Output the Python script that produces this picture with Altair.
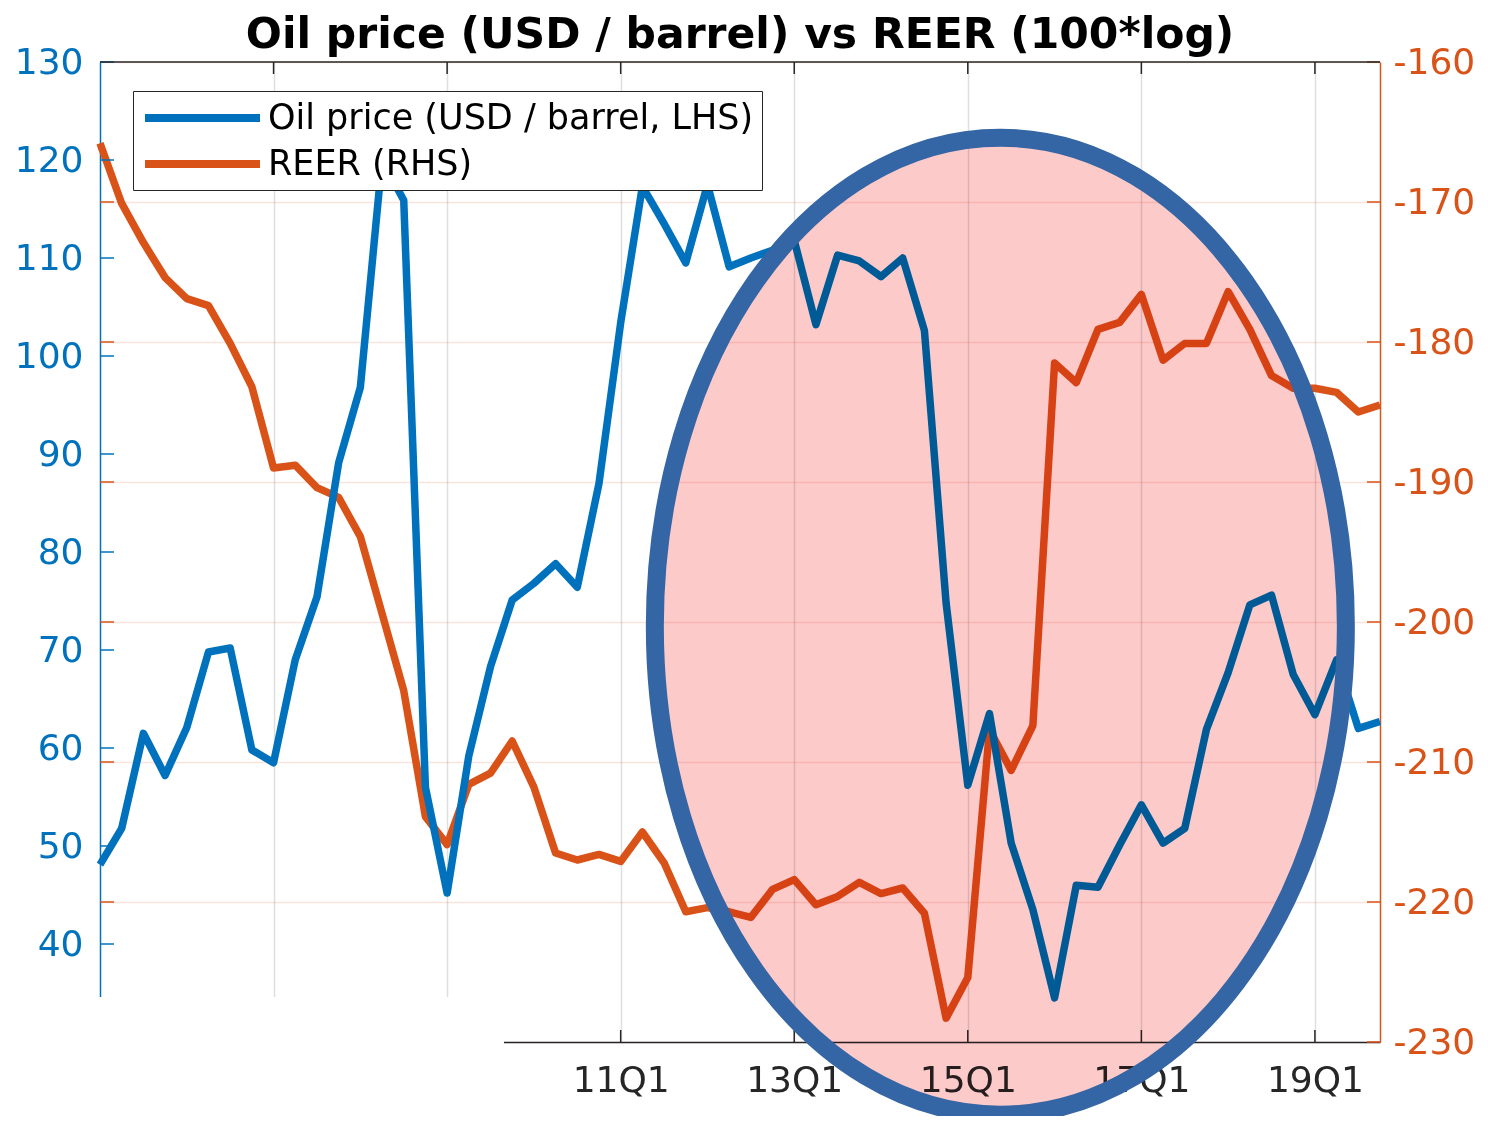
import altair as alt
import pandas as pd

# ---------------- data (quarterly, 2005Q1 .. 2019Q4) ----------------
quarters = [f"{y:02d}Q{q}" for y in range(5, 20) for q in range(1, 5)]
oil = [48.1, 51.8, 61.5, 57.2, 62.1, 69.8, 70.2, 59.8, 58.5, 69.0,
       75.4, 89.1, 96.8, 120.0, 115.9, 56.0, 45.2, 59.2, 68.3, 75.1,
       76.8, 78.8, 76.4, 87.0, 103.4, 117.3, 113.5, 109.5, 117.5, 109.1,
       110.0, 110.8, 111.8, 103.2, 110.3, 109.7, 108.1, 110.0, 102.6, 74.8,
       56.2, 63.5, 50.3, 43.5, 34.5, 46.0, 45.8, 50.1, 54.2, 50.3,
       51.8, 61.9, 67.7, 74.6, 75.6, 67.5, 63.4, 69.0, 62.0, 62.7]
reer = [-165.8, -170.1, -172.9, -175.4, -176.9, -177.4, -180.1, -183.2, -189.0, -188.8,
        -190.4, -191.1, -193.9, -199.4, -204.9, -213.9, -215.9, -211.6, -210.8, -208.5,
        -211.8, -216.5, -217.0, -216.6, -217.1, -215.0, -217.2, -220.7, -220.4, -220.7,
        -221.1, -219.1, -218.4, -220.2, -219.6, -218.6, -219.4, -219.0, -220.8, -228.3,
        -225.4, -207.7, -210.6, -207.4, -181.5, -182.9, -179.1, -178.6, -176.6, -181.3,
        -180.1, -180.1, -176.4, -179.1, -182.4, -183.3, -183.3, -183.6, -185.0, -184.5]

OIL_LABEL = "Oil price (USD / barrel, LHS)"
REER_LABEL = "REER (RHS)"
TITLE = "Oil price (USD / barrel) vs REER (100*log)"

oil_ticks = [40, 50, 60, 70, 80, 90, 100, 110, 120, 130]
reer_ticks = [-230, -220, -210, -200, -190, -180, -170, -160]
xtick_vals = [8, 16, 24, 32, 40, 48, 56]            # quarter index of 07Q1 .. 19Q1
xtick_labels = ["", "", "11Q1", "13Q1", "15Q1", "17Q1", "19Q1"]  # first two hidden in the original
xtick_bottom = [24, 32, 40, 48, 56]

# highlight ellipse (centre in quarter index / REER units, radii in px)
ell_t, ell_v = 41.5, -200.3
ell_rx, ell_ry = 345.5, 488.5

# white patch hiding the lower-left corner of the axes (as in the original)
mask = pd.DataFrame({"x0": [-0.25], "x1": [18.62], "y0": [34.6], "y1": [29.7]})

BLUE = "#0072BD"
ORANGE = "#D95319"
DARK = "#262626"
W, H = 1280, 980

t_idx = list(range(len(quarters)))
df_oil = pd.DataFrame({"t": t_idx, "q": quarters, "v": oil, "series": [OIL_LABEL] * len(oil)})
df_reer = pd.DataFrame({"t": t_idx, "q": quarters, "v": reer, "series": [REER_LABEL] * len(reer)})

x_scale = alt.Scale(domain=[0, 59], nice=False, zero=False)
oil_scale = alt.Scale(domain=[30, 130], nice=False, zero=False)
reer_scale = alt.Scale(domain=[-230, -160], nice=False, zero=False)
color_scale = alt.Scale(domain=[OIL_LABEL, REER_LABEL], range=[BLUE, ORANGE])

label_expr = ""
for v, lab in zip(xtick_vals, xtick_labels):
    label_expr += f"datum.value == {v} ? '{lab}' : "
label_expr += "''"

x_axis = alt.Axis(values=xtick_vals, labelExpr=label_expr, grid=True, gridColor=DARK,
                  gridOpacity=0.15, gridWidth=1.5, domain=True, domainColor=DARK,
                  domainWidth=1.5, ticks=False, labelColor=DARK, labelFontSize=36,
                  labelFont="DejaVu Sans", labelPadding=21, labelFlush=False, title=None)

left_axis = alt.Axis(orient="left", values=oil_ticks, grid=False, domainColor=BLUE,
                     domainWidth=1.5, ticks=False, labelColor=BLUE, labelFontSize=36,
                     labelFont="DejaVu Sans", labelPadding=17, title=None, labelOverlap=False)

right_axis = alt.Axis(orient="right", values=reer_ticks, grid=True, gridColor=ORANGE,
                      gridOpacity=0.15, gridWidth=1.5, domainColor=ORANGE, domainWidth=1.5,
                      ticks=False, labelColor=ORANGE, labelFontSize=36, labelFont="DejaVu Sans",
                      labelPadding=13, title=None, labelOverlap=False,
                      labelExpr="replace(datum.label, '\u2212', '-')")

# legend symbol: a 115px horizontal line (custom path, small layout size)
sym_size = 900
sym_r = (sym_size ** 0.5) / 2
sym_path = f"M -1 0 H {115 / sym_r - 1:.4f}"

legend = alt.Legend(orient="none", legendX=33, legendY=29, title=None,
                    symbolType=sym_path, symbolSize=sym_size, symbolStrokeWidth=8,
                    labelFontSize=35, labelFont="DejaVu Sans", labelColor="#000000",
                    labelOffset=89, labelLimit=1000, padding=8, rowPadding=9,
                    strokeColor=DARK, fillColor="#ffffff")


def X(field):
    return alt.X(field, scale=x_scale, axis=x_axis)


def YO(field):
    return alt.Y(field, scale=oil_scale, axis=left_axis)


def YR(field):
    return alt.Y(field, scale=reer_scale, axis=right_axis)


# ---------- REER group (right axis) ----------
reer_line = alt.Chart(df_reer).mark_line(strokeWidth=7.5, strokeJoin="round").encode(
    x=X("t:Q"), y=YR("v:Q"),
    color=alt.Color("series:N", scale=color_scale, legend=legend),
)
reer_ticks_r = alt.Chart(pd.DataFrame({"v": reer_ticks})).mark_tick(
    orient="horizontal", size=13, thickness=1.5, color=ORANGE, opacity=1).encode(
    x=alt.value(W - 6.5), y=YR("v:Q"))
reer_ticks_l = alt.Chart(pd.DataFrame({"v": reer_ticks[1:-1]})).mark_tick(
    orient="horizontal", size=14, thickness=1.5, color=ORANGE, opacity=1).encode(
    x=alt.value(7), y=YR("v:Q"))
reer_group = alt.layer(reer_line, reer_ticks_r, reer_ticks_l)

# ---------- Oil group (left axis, x axis) ----------
oil_line = alt.Chart(df_oil).mark_line(strokeWidth=7.5, strokeJoin="round").encode(
    x=X("t:Q"), y=YO("v:Q"),
    color=alt.Color("series:N", scale=color_scale, legend=legend),
)
oil_ticks_l = alt.Chart(pd.DataFrame({"v": oil_ticks})).mark_tick(
    orient="horizontal", size=14, thickness=1.5, color=BLUE, opacity=1).encode(
    x=alt.value(7), y=YO("v:Q"))
mask_rect = alt.Chart(mask).mark_rect(color="#ffffff", opacity=1).encode(
    x=X("x0:Q"), x2="x1:Q", y=YO("y0:Q"), y2="y1:Q")
top_ticks = alt.Chart(pd.DataFrame({"t": xtick_vals})).mark_tick(
    orient="vertical", size=12, thickness=1.5, color=DARK, opacity=1).encode(
    x=X("t:Q"), y=alt.value(6))
bottom_ticks = alt.Chart(pd.DataFrame({"t": xtick_bottom})).mark_tick(
    orient="vertical", size=12, thickness=1.5, color=DARK, opacity=1).encode(
    x=X("t:Q"), y=alt.value(H - 6))
top_rule = alt.Chart(pd.DataFrame({"a": [0]})).mark_rule(color=DARK, strokeWidth=1.5).encode(
    x=alt.value(0), x2=alt.value(W), y=alt.value(0))
oil_group = alt.layer(oil_line, mask_rect, oil_ticks_l, top_ticks, bottom_ticks, top_rule)

# ---------- highlight ellipse ----------
k = 0.5523
a = ell_rx / ell_ry
ka = k * a
ell_path = (f"M {a:.4f} 0 C {a:.4f} {k} {ka:.4f} 1 0 1 "
            f"C {-ka:.4f} 1 {-a:.4f} {k} {-a:.4f} 0 "
            f"C {-a:.4f} {-k} {-ka:.4f} -1 0 -1 "
            f"C {ka:.4f} -1 {a:.4f} {-k} {a:.4f} 0 Z")
ell_size = (2 * ell_ry) ** 2
ell_df = pd.DataFrame({"t": [ell_t], "v": [ell_v]})
ell_fill = alt.Chart(ell_df).mark_point(shape=ell_path, size=ell_size, filled=True,
                                        fill="#FDCACA", strokeWidth=0, opacity=1,
                                        blend="multiply").encode(
    x=X("t:Q"), y=alt.Y("v:Q", scale=reer_scale, axis=None))
ell_stroke = alt.Chart(ell_df).mark_point(shape=ell_path, size=ell_size, filled=False,
                                          stroke="#3465A4", strokeWidth=18, opacity=1).encode(
    x=X("t:Q"), y=alt.Y("v:Q", scale=reer_scale, axis=None))
ell_group = alt.layer(ell_fill, ell_stroke)

chart = alt.layer(reer_group, oil_group, ell_group).resolve_scale(
    y="independent"
).properties(
    width=W, height=H,
    title=alt.TitleParams(TITLE, font="DejaVu Sans", fontSize=42.5, fontWeight="bold",
                          color="#000000", anchor="middle", offset=-12),
    autosize=alt.AutoSizeParams(type="none"),
    padding={"left": 92, "top": 54, "right": 100, "bottom": 74},
    background="#ffffff",
).configure_view(stroke="transparent", strokeWidth=0)

chart.save("out.html", embed_options={"renderer": "svg", "actions": False})
